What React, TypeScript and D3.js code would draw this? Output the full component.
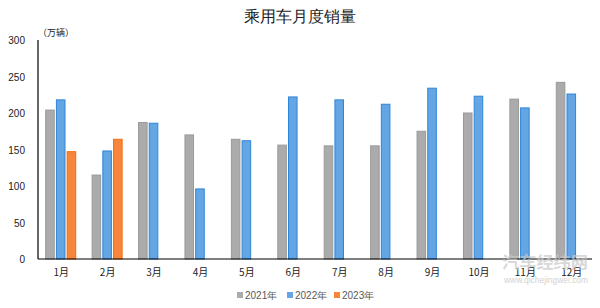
import { useEffect, useRef } from 'react';
import * as d3 from 'd3';

const months = ['1月', '2月', '3月', '4月', '5月', '6月', '7月', '8月', '9月', '10月', '11月', '12月'];
const sales2021 = [204, 115, 187, 170, 164, 156, 155, 155, 175, 200, 219, 242];
const sales2022 = [218, 148, 186, 96, 162, 222, 218, 212, 234, 223, 207, 226];
const sales2023 = [147, 164];
const yTicks = [0, 50, 100, 150, 200, 250, 300];

const seriesNames = ['2021年', '2022年', '2023年'];
const fills = ['#ABABAB', '#64A5E4', '#F7863A'];
const strokes = ['#9A9A9A', '#2F86D8', '#F26B12'];

export default function App() {
  const svgRef = useRef<SVGSVGElement>(null);

  useEffect(() => {
    if (!svgRef.current) return;
    const svg = d3.select(svgRef.current);
    svg.selectAll('*').remove();

    const width = 600;
    const height = 308;
    const margin = { top: 40, right: 5, bottom: 49, left: 38 };
    const innerWidth = width - margin.left - margin.right;
    const innerHeight = height - margin.top - margin.bottom;

    svg.append('rect').attr('width', width).attr('height', height).attr('fill', '#fff');

    // Title
    svg.append('text')
      .attr('x', 300)
      .attr('y', 22)
      .attr('text-anchor', 'middle')
      .attr('font-family', 'serif')
      .attr('font-size', '16px')
      .attr('fill', '#222')
      .text('乘用车月度销量');

    const x = d3.scaleBand<string>().domain(months).range([0, innerWidth]);
    const y = d3.scaleLinear().domain([0, 300]).range([innerHeight, 0]);
    const sub = d3.scaleBand<number>().domain([0, 1, 2]).range([-15, 15]).paddingInner(0.2);

    const g = svg.append('g').attr('transform', `translate(${margin.left},${margin.top})`);

    // Y tick labels
    g.selectAll('.ytick')
      .data(yTicks)
      .enter().append('text')
      .attr('x', -13)
      .attr('y', d => y(d) + 4)
      .attr('text-anchor', 'end')
      .attr('font-family', 'Liberation Sans, Arial, sans-serif')
      .attr('font-size', '10px')
      .attr('fill', '#222')
      .text(d => d);

    // Unit label
    g.append('text')
      .attr('x', 0)
      .attr('y', -4)
      .attr('font-family', 'Noto Sans CJK SC, sans-serif')
      .attr('font-size', '9px')
      .attr('fill', '#222')
      .text('（万辆）');

    const all = [sales2021, sales2022, sales2023];
    all.forEach((vals, si) => {
      g.selectAll(`.bar${si}`)
        .data(vals)
        .enter().append('rect')
        .attr('x', (d, i) => (x(months[i]) as number) + x.bandwidth() / 2 + (sub(si) as number) - 0.5)
        .attr('y', d => y(d))
        .attr('width', sub.bandwidth())
        .attr('height', d => innerHeight - y(d))
        .attr('fill', fills[si])
        .attr('stroke', strokes[si])
        .attr('stroke-width', 1);
    });

    // Axes lines
    g.append('line')
      .attr('x1', 0).attr('x2', 0).attr('y1', 0).attr('y2', innerHeight)
      .attr('stroke', '#000').attr('stroke-width', 1.2);
    g.append('line')
      .attr('x1', 0).attr('x2', innerWidth).attr('y1', innerHeight).attr('y2', innerHeight)
      .attr('stroke', '#000').attr('stroke-width', 1.2);

    // X labels
    g.selectAll('.xlabel')
      .data(months)
      .enter().append('text')
      .attr('x', d => (x(d) as number) + x.bandwidth() / 2)
      .attr('y', innerHeight + 17)
      .attr('text-anchor', 'middle')
      .attr('font-family', 'Noto Sans CJK SC, sans-serif')
      .attr('font-size', '10px')
      .attr('fill', '#222')
      .text(d => d);

    // Watermark (semi-transparent, over the chart like the original)
    svg.append('text')
      .attr('x', 502)
      .attr('y', 268)
      .attr('textLength', 86)
      .attr('lengthAdjust', 'spacingAndGlyphs')
      .attr('font-family', 'Noto Sans CJK SC, sans-serif')
      .attr('font-weight', 'bold')
      .attr('font-size', '16px')
      .attr('fill', '#c8c8c8')
      .attr('opacity', 0.7)
      .text('汽车经纬网');
    svg.append('text')
      .attr('x', 504)
      .attr('y', 283)
      .attr('textLength', 84)
      .attr('lengthAdjust', 'spacingAndGlyphs')
      .attr('font-family', 'Liberation Sans, Arial, sans-serif')
      .attr('font-size', '8.5px')
      .attr('fill', '#c8c8c8')
      .attr('opacity', 0.8)
      .text('www.qichejingwei.com');

    // Legend
    const legendX = [237, 287, 334];
    const legend = svg.append('g');
    seriesNames.forEach((name, i) => {
      legend.append('rect')
        .attr('x', legendX[i]).attr('y', 292)
        .attr('width', 6).attr('height', 6)
        .attr('fill', fills[i]);
      legend.append('text')
        .attr('x', legendX[i] + 8).attr('y', 299)
        .attr('font-family', 'Liberation Sans, Arial, sans-serif')
        .attr('font-size', '10px')
        .attr('fill', '#595959')
        .text(name);
    });
  }, []);

  return (
    <div style={{ width: 600, height: 308, margin: -8 }}>
      <svg ref={svgRef} width={600} height={308} style={{ display: 'block' }} />
    </div>
  );
}
